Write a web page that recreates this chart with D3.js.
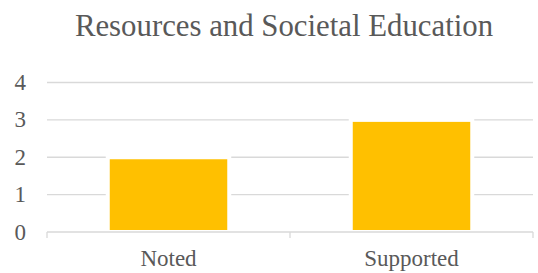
<!DOCTYPE html>
<html>
<head>
<meta charset="utf-8">
<script src="https://cdn.jsdelivr.net/npm/d3@7"></script>
<style>
  body { margin: 0; background: #fff; }
</style>
</head>
<body>
<div id="chart"></div>
<script>
var categories = ["Noted", "Supported"];
var values = [2, 3];
var yTicks = [0, 1, 2, 3, 4];
var title = "Resources and Societal Education";

var width = 538, height = 273;
var margin = {top: 82.5, right: 5, bottom: 41, left: 47};
var font = "'Liberation Serif', 'Times New Roman', serif";

var svg = d3.select("#chart").append("svg")
    .attr("width", width)
    .attr("height", height)
    .style("font-family", font);

var x = d3.scaleBand()
    .domain(categories)
    .range([margin.left, width - margin.right])
    .paddingInner(0.5)
    .paddingOuter(0.25);

var y = d3.scaleLinear()
    .domain([0, 4])
    .range([height - margin.bottom, margin.top]);

// title
svg.append("text")
    .attr("x", 284)
    .attr("y", 36)
    .attr("text-anchor", "middle")
    .style("font-family", font)
    .style("font-size", "30.8px")
    .style("fill", "#595959")
    .text(title);

// gridlines
svg.append("g").selectAll("line")
    .data(yTicks.slice(1))
  .enter().append("line")
    .attr("x1", margin.left)
    .attr("x2", width - margin.right)
    .attr("y1", function(d) { return y(d); })
    .attr("y2", function(d) { return y(d); })
    .style("stroke", "#d9d9d9")
    .style("stroke-width", 1.3);

// y labels
svg.append("g").selectAll("text")
    .data(yTicks)
  .enter().append("text")
    .attr("x", 26)
    .attr("y", function(d) { return y(d); })
    .attr("dy", "0.33em")
    .attr("text-anchor", "end")
    .style("font-family", font)
    .style("font-size", "23px")
    .style("fill", "#595959")
    .text(function(d) { return d; });

// bars
svg.append("g").selectAll("rect")
    .data(values)
  .enter().append("rect")
    .attr("x", function(d, i) { return x(categories[i]); })
    .attr("width", x.bandwidth())
    .attr("y", function(d) { return y(d); })
    .attr("height", function(d) { return y(0) - y(d); })
    .style("fill", "#ffc000")
    .style("stroke", "#fff")
    .style("stroke-width", 4);

// x axis
var xAxis = svg.append("g")
    .attr("transform", "translate(0," + y(0) + ")");
xAxis.append("line")
    .attr("x1", margin.left)
    .attr("x2", width - margin.right)
    .style("stroke", "#d9d9d9")
    .style("stroke-width", 1.3);
var edges = [margin.left, (margin.left + width - margin.right) / 2, width - margin.right];
xAxis.selectAll(".tk")
    .data(edges)
  .enter().append("line")
    .attr("class", "tk")
    .attr("x1", function(d) { return d; })
    .attr("x2", function(d) { return d; })
    .attr("y1", 0)
    .attr("y2", 6)
    .style("stroke", "#d9d9d9")
    .style("stroke-width", 1.3);
xAxis.selectAll("text")
    .data(categories)
  .enter().append("text")
    .attr("x", function(d) { return x(d) + x.bandwidth() / 2; })
    .attr("y", 34)
    .attr("text-anchor", "middle")
    .style("font-family", font)
    .style("font-size", "23px")
    .style("fill", "#595959")
    .text(function(d) { return d; });
</script>
</body>
</html>
